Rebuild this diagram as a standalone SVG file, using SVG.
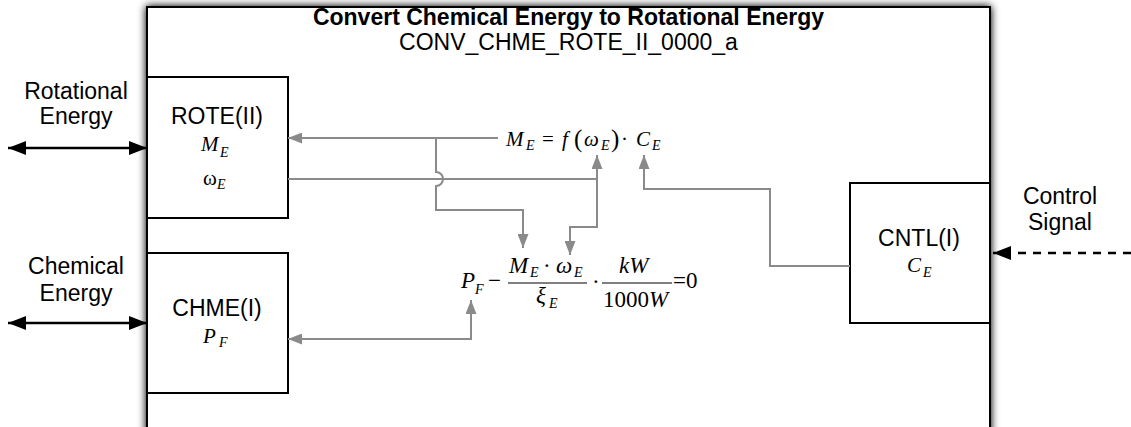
<svg xmlns="http://www.w3.org/2000/svg" width="1131" height="427" viewBox="0 0 1131 427">
<style>
.sans{font-family:"Liberation Sans",Arial,sans-serif;font-size:23px;fill:#000}
.title{font-weight:bold}
.m{font-family:"Liberation Serif","Times New Roman",serif;fill:#000}
.i{font-style:italic}
.box{fill:#fff;stroke:#000;stroke-width:2}
.gc{fill:none;stroke:#8a8a8a;stroke-width:2}
.bc{fill:none;stroke:#000;stroke-width:2.5}
</style>
<defs>
<filter id="sh" x="-5%" y="-5%" width="110%" height="110%">
<feGaussianBlur in="SourceAlpha" stdDeviation="4"/>
<feComponentTransfer><feFuncA type="linear" slope="1.1"/></feComponentTransfer>
<feMerge><feMergeNode/><feMergeNode in="SourceGraphic"/></feMerge>
</filter>
<marker id="ga" markerUnits="userSpaceOnUse" markerWidth="14" markerHeight="11" refX="14" refY="5.5" orient="auto-start-reverse"><path d="M0,0 L14,5.5 L0,11 z" fill="#8a8a8a"/></marker>
<marker id="ba" markerUnits="userSpaceOnUse" markerWidth="18" markerHeight="14" refX="18" refY="7" orient="auto-start-reverse"><path d="M0,0 L18,7 L0,14 z" fill="#000"/></marker>
</defs>
<rect width="1131" height="427" fill="#fff"/>
<g id="outer">
<rect x="147" y="7" width="843" height="440" fill="#fff" stroke="#000" stroke-width="2" filter="url(#sh)"/>
<text class="sans title" x="568.5" y="25" text-anchor="middle" font-size="22.5">Convert Chemical Energy to Rotational Energy</text>
<text class="sans" x="568.5" y="50" text-anchor="middle" font-size="22.5">CONV_CHME_ROTE_II_0000_a</text>
</g>
<g id="rote">
<rect class="box" x="147" y="77" width="141" height="141"/>
<text class="sans" x="217" y="124" text-anchor="middle">ROTE(II)</text>
<text class="m i" x="201" y="151" font-size="21">M</text><text class="m i" x="220" y="157" font-size="14">E</text>
<text class="m" x="203" y="185" font-size="21">ω</text><text class="m i" x="217" y="189" font-size="14">E</text>
</g>
<g id="chme">
<rect class="box" x="147" y="253" width="141" height="140"/>
<text class="sans" x="217" y="316" text-anchor="middle">CHME(I)</text>
<text class="m i" x="203" y="343" font-size="21">P</text><text class="m i" x="219" y="347" font-size="14">F</text>
</g>
<g id="cntl">
<rect class="box" x="850" y="183" width="140" height="140"/>
<text class="sans" x="919" y="246" text-anchor="middle">CNTL(I)</text>
<text class="m i" x="907" y="272" font-size="21">C</text><text class="m i" x="923" y="277" font-size="14">E</text>
</g>
<g id="labels">
<text class="sans" x="76" y="99" text-anchor="middle">Rotational</text>
<text class="sans" x="76" y="124" text-anchor="middle">Energy</text>
<text class="sans" x="76" y="274" text-anchor="middle">Chemical</text>
<text class="sans" x="76" y="301" text-anchor="middle">Energy</text>
<text class="sans" x="1060" y="204" text-anchor="middle">Control</text>
<text class="sans" x="1060" y="230" text-anchor="middle">Signal</text>
</g>
<g id="eq1">
<text class="m i" x="506" y="146" font-size="21">M</text>
<text class="m i" x="526" y="150" font-size="14">E</text>
<text class="m" x="542" y="146" font-size="21">=</text>
<text class="m i" x="562" y="146" font-size="21">f</text>
<text class="m" x="574" y="147" font-size="25">(</text>
<text class="m i" x="584" y="146" font-size="21">ω</text>
<text class="m i" x="601" y="150" font-size="14">E</text>
<text class="m" x="611" y="147" font-size="25">)</text>
<text class="m" x="621" y="146" font-size="21">·</text>
<text class="m i" x="636" y="146" font-size="21">C</text>
<text class="m i" x="652" y="150" font-size="14">E</text>
</g>
<g id="eq2">
<text class="m i" x="461" y="288" font-size="23">P</text>
<text class="m i" x="475" y="294" font-size="14">F</text>
<text class="m" x="488" y="288" font-size="23">−</text>
<line x1="508" y1="283" x2="587" y2="283" stroke="#000" stroke-width="1.2"/>
<text class="m i" x="509" y="273" font-size="23">M</text>
<text class="m i" x="530" y="277" font-size="14">E</text>
<text class="m" x="543" y="273" font-size="23">·</text>
<text class="m i" x="556" y="273" font-size="23">ω</text>
<text class="m i" x="574" y="277" font-size="14">E</text>
<text class="m i" x="536" y="303" font-size="23">ξ</text>
<text class="m i" x="549" y="308" font-size="14">E</text>
<text class="m" x="592" y="289" font-size="23">·</text>
<line x1="602" y1="283" x2="672" y2="283" stroke="#000" stroke-width="1.2"/>
<text class="m i" x="619" y="273" font-size="23">kW</text>
<text class="m" x="603" y="307" font-size="23">1000<tspan font-style="italic">W</tspan></text>
<text class="m" x="673" y="288" font-size="23">=0</text>
</g>
<g id="connectors">
<path class="bc" d="M8,148 H147" marker-start="url(#ba)" marker-end="url(#ba)"/>
<path class="bc" d="M8,323 H147" marker-start="url(#ba)" marker-end="url(#ba)"/>
<path class="bc" d="M1131,253 H993" stroke-dasharray="8,7" marker-end="url(#ba)"/>
<path class="gc" d="M498,138 H288" marker-end="url(#ga)"/>
<path class="gc" d="M436,138 V172 A7,7 0 0 1 436,186 V210 H523 V248" marker-end="url(#ga)"/>
<path class="gc" d="M288,179 H597"/>
<path class="gc" d="M597,155 V227 H570 V255" marker-start="url(#ga)" marker-end="url(#ga)"/>
<path class="gc" d="M850,266 H770 V189 H644 V155" marker-end="url(#ga)"/>
<path class="gc" d="M471,300 V339 H288" marker-start="url(#ga)" marker-end="url(#ga)"/>
</g>
</svg>
